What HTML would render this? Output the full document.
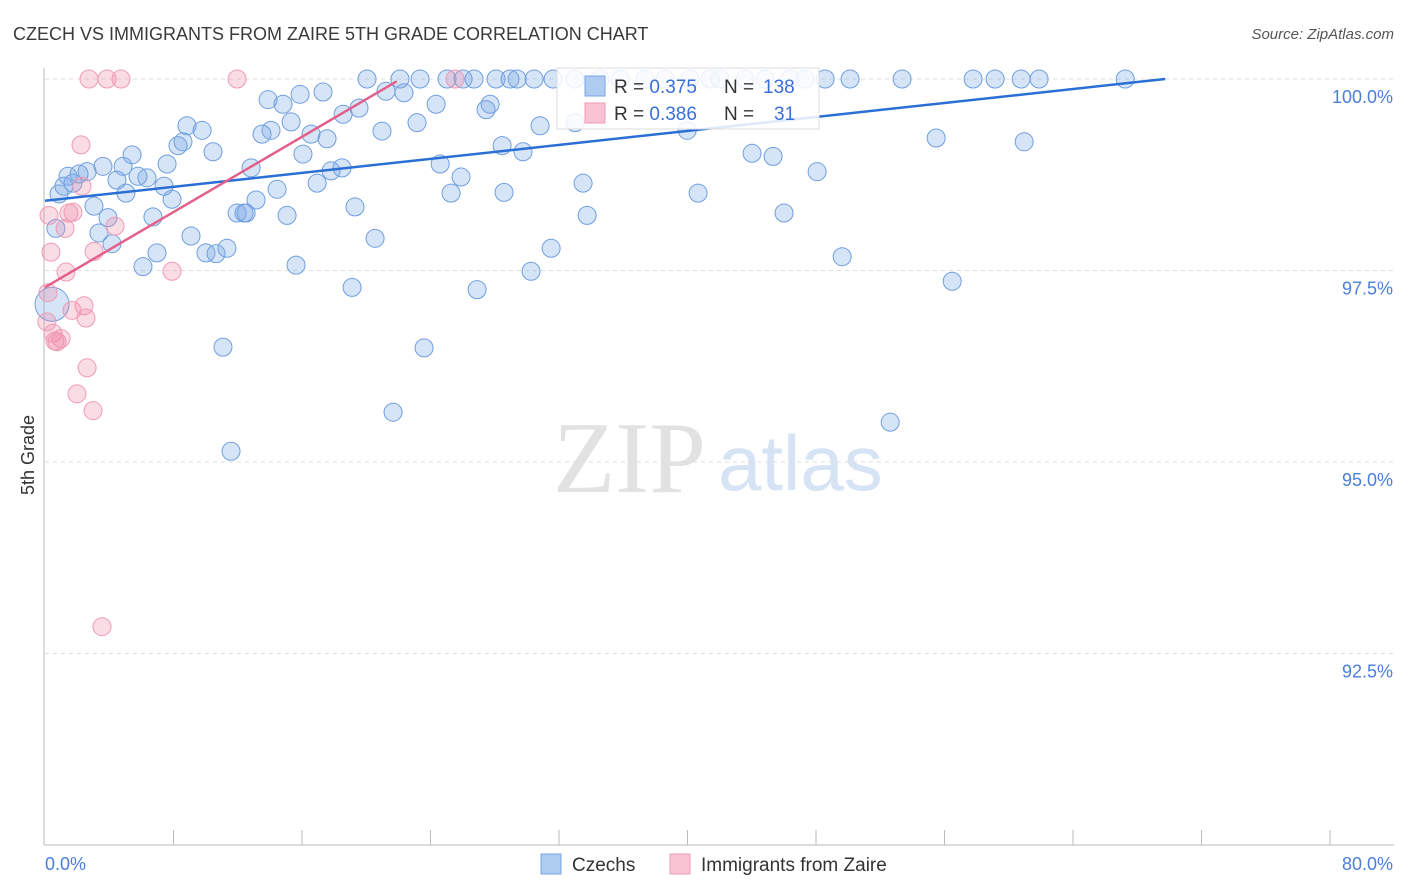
<!DOCTYPE html>
<html><head><meta charset="utf-8"><style>
body{margin:0;background:#fff;font-family:"Liberation Sans",sans-serif;}
svg{display:block}
</style></head><body>
<svg width="1406" height="892" xmlns="http://www.w3.org/2000/svg">
<text x="13" y="40" font-size="18" fill="#3a3a3a">CZECH VS IMMIGRANTS FROM ZAIRE 5TH GRADE CORRELATION CHART</text>
<text x="1394" y="39" font-size="15" font-style="italic" fill="#555" text-anchor="end">Source: ZipAtlas.com</text>
<text x="553" y="492" font-family="Liberation Serif" font-size="102" fill="#e2e2e2">ZIP</text>
<text x="718" y="490" font-size="78" fill="#d6e3f5">atlas</text>
<g id="grid"></g>
<g id="axes"></g>
<g id="pts"></g>
<g id="lines"></g>
<text transform="translate(34,455) rotate(-90)" font-size="18" fill="#333" text-anchor="middle">5th Grade</text>
<g>
<rect x="557" y="68" width="262" height="61" fill="#fff" fill-opacity="0.85" stroke="#ddd"/>
<rect x="585" y="76" width="20" height="20" fill="#aecbf0" stroke="#7aa6e6"/>
<rect x="585" y="103" width="20" height="20" fill="#f8c3d3" stroke="#f09ab4"/>
<text x="614" y="93" font-size="19" fill="#333">R = <tspan fill="#3a6fd8">0.375</tspan><tspan x="724">N = </tspan><tspan x="763" fill="#3a6fd8">138</tspan></text>
<text x="614" y="120" font-size="19" fill="#333">R = <tspan fill="#3a6fd8">0.386</tspan><tspan x="724">N = </tspan><tspan x="774" fill="#3a6fd8">31</tspan></text>
</g>
<g>
<rect x="541" y="854" width="20" height="20" fill="#aecbf0" stroke="#7aa6e6"/>
<text x="572" y="871" font-size="19" fill="#333">Czechs</text>
<rect x="670" y="854" width="20" height="20" fill="#f8c3d3" stroke="#f09ab4"/>
<text x="701" y="871" font-size="19" fill="#333">Immigrants from Zaire</text>
</g>
</svg>
<script>
const yTicks=[100,97.5,95,92.5];
const yTickLabels=["100.0%","97.5%","95.0%","92.5%"];
const xTickLabels=["0.0%","80.0%"];
const czechX=[20.05,22.1,23.35,25.03,26.03,26.71,28.08,28.95,29.39,30.45,31.63,33.0,34.56,35.8,37.36,38.6,40.16,41.41,42.03,43.59,44.83,46.39,47.32,48.57,50.12,53.36,57.78,59.15,60.77,61.89,67.25,
13.89,15.88,17.31,14.82,21.23,22.35,19.55,18.56,24.35,27.71,27.46,8.84,9.78,8.28,8.59,10.46,14.07,13.51,15.32,16.56,17.56,16.06,20.98,23.16,30.82,33.0,39.98,55.48,60.96,28.46,29.76,44.02,45.33,5.42,7.60,3.61,4.86,2.62,2.12,1.43,5.79,6.35,4.48,0.87,1.74,1.18,7.41,5.04,7.91,3.05,12.83,17.81,18.49,24.60,25.90,16.94,14.45,13.14,33.50,40.66,48.07,25.28,28.58,19.30,11.96,12.39,12.52,15.07,6.72,3.92,33.75,46.01,0.68,3.36,4.17,9.09,20.55,31.51,6.97,10.02,10.65,11.33,6.10,15.63,30.26,49.63,19.12,26.90,56.48,11.08,23.6,21.67,52.62,11.58,0.44];
const czechY=[100,100,100,100,100,100,100,100,100,100,100,100,100,100,100,100,100,100,100,100,100,100,100,100,100,100,100,100,100,100,100,
99.73,99.80,99.83,99.67,99.84,99.82,99.62,99.54,99.67,99.67,99.60,99.39,99.33,99.13,99.18,99.05,99.33,99.28,99.44,99.28,99.22,99.02,99.32,99.43,99.39,99.43,99.33,99.23,99.18,99.13,99.05,99.03,98.99,99.01,98.89,98.86,98.86,98.79,98.76,98.73,98.73,98.71,98.68,98.50,98.64,98.60,98.60,98.51,98.43,98.34,98.84,98.80,98.84,98.89,98.72,98.64,98.56,98.42,98.64,98.51,98.79,98.51,98.52,98.33,98.25,98.25,98.25,98.22,98.20,98.19,98.22,98.25,98.05,97.99,97.85,97.95,97.92,97.79,97.73,97.73,97.72,97.79,97.55,97.57,97.49,97.68,97.28,97.25,97.36,96.50,96.49,95.65,95.52,95.14,97.06];
const zaireX=[2.74,3.86,4.73,11.96,25.53,2.24,2.30,1.49,1.74,1.25,0.37,3.05,4.36,7.91,1.31,0.19,2.43,1.68,2.55,0.12,0.50,0.62,1.0,0.75,2.62,1.99,2.99,3.55,0.25];
const zaireY=[100,100,100,100,100,99.14,98.60,98.25,98.26,98.05,97.74,97.75,98.08,97.49,97.48,97.21,97.04,96.98,96.88,96.83,96.68,96.58,96.61,96.57,96.23,95.89,95.67,92.85,98.22];
const czechTrend=[[0,98.41],[69.74,100]];
const zaireTrend=[[0,97.28],[21.9,99.97]];
const NS="http://www.w3.org/2000/svg";
const xs=v=>45+v*(1285/80);
const ys=v=>79+(100-v)*76.6;
function mk(tag,attrs,parent){const e=document.createElementNS(NS,tag);for(const k in attrs)e.setAttribute(k,attrs[k]);document.getElementById(parent).appendChild(e);return e;}
yTicks.forEach((t,i)=>{
  const l=mk('line',{x1:45,x2:1394,y1:ys(t),y2:ys(t),stroke:'#ddd','stroke-dasharray':'4,4'},'grid');
  
  
  const tx=mk('text',{x:1393,y:ys(t)+24,'font-size':18,fill:'#4a7fd8','text-anchor':'end'},'grid');
  tx.textContent=yTickLabels[i];
  
  
});
let a=mk('line',{x1:44,x2:44,y1:68,y2:845,stroke:'#bbb'},'axes');


a=mk('line',{x1:44,x2:1394,y1:845,y2:845,stroke:'#bbb'},'axes');


for(let i=1;i<=10;i++){const t=mk('line',{x1:xs(i*8),x2:xs(i*8),y1:830,y2:845,stroke:'#bbb'},'axes');
  
  }
let xl=mk('text',{x:45,y:870,'font-size':18,fill:'#4a7fd8'},'axes');xl.textContent=xTickLabels[0];


xl=mk('text',{x:1393,y:870,'font-size':18,fill:'#4a7fd8','text-anchor':'end'},'axes');xl.textContent=xTickLabels[1];


czechX.forEach((x,i)=>{const big=i===czechX.length-1;
  const c=mk('circle',{cx:xs(x),cy:ys(czechY[i]),r:big?17:9,fill:'rgba(120,165,230,0.3)',stroke:'#6f9fe0','stroke-width':1},'pts');
  
  });
zaireX.forEach((x,i)=>{const c=mk('circle',{cx:xs(x),cy:ys(zaireY[i]),r:9,fill:'rgba(240,140,170,0.3)',stroke:'#f09ab4','stroke-width':1},'pts');
  
  });
let tl=mk('line',{x1:xs(czechTrend[0][0]),y1:ys(czechTrend[0][1]),x2:xs(czechTrend[1][0]),y2:ys(czechTrend[1][1]),stroke:'#2a6fd6','stroke-width':2.5},'lines');


tl=mk('line',{x1:xs(zaireTrend[0][0]),y1:ys(zaireTrend[0][1]),x2:xs(zaireTrend[1][0]),y2:ys(zaireTrend[1][1]),stroke:'#e2608a','stroke-width':2.5},'lines');


</script>
</body></html>
